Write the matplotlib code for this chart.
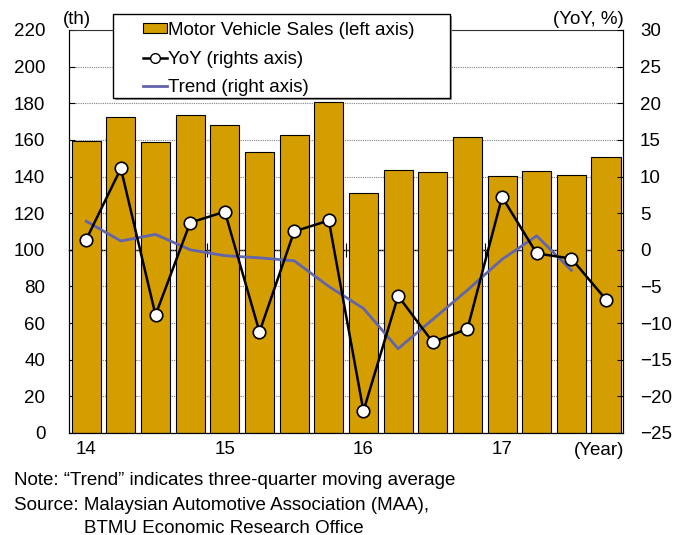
import matplotlib.pyplot as plt
from matplotlib.patches import Patch, Rectangle
from matplotlib.lines import Line2D
import numpy as np

plt.rcParams['font.family'] = ['Liberation Sans', 'DejaVu Sans']

# quarterly data 2014Q1 - 2017Q4
sales = [159.6, 172.7, 158.7, 173.8, 168.0, 153.4, 162.8, 180.7,
         130.8, 143.7, 142.3, 161.4, 140.5, 143.2, 141.0, 150.7]
yoy = [1.4, 11.1, -8.9, 3.7, 5.2, -11.2, 2.5, 4.0,
       -22.0, -6.3, -12.6, -10.8, 7.2, -0.5, -1.2, -6.8]
trend = [3.9, 1.2, 2.1, 0.0, -0.8, -1.1, -1.5, -5.0,
         -8.0, -13.5, -9.5, -5.5, -1.3, 1.9, -2.8]
year_labels = ['14', '15', '16', '17']
year_breaks = [3.5, 7.5, 11.5]

bar_color = '#D49E00'
trend_color = '#6264AE'
fs = 13.5

fig = plt.figure(figsize=(6.82, 5.35), dpi=100)
ax = fig.add_axes([0.101, 0.1907, 0.813, 0.7533])

x = np.arange(len(sales))
ax.bar(x, sales, width=0.84, color=bar_color, edgecolor='black', linewidth=0.8, zorder=2)
ax.set_ylim(0, 220)
ax.set_xlim(-0.5, len(sales) - 0.5)
ax.set_yticks(np.arange(0, 221, 20))
ax.yaxis.grid(True, linestyle=(0, (1, 1)), color='gray', linewidth=0.8, zorder=0)
ax.set_axisbelow(True)
ax.tick_params(axis='y', direction='in', length=4, labelsize=fs, pad=17)
ax.set_xticks(x[::4])
ax.set_xticklabels(year_labels)
ax.tick_params(axis='x', length=0, labelsize=fs, pad=6)
ax.spines['top'].set_color('#333333')
ax.spines['top'].set_linewidth(0.8)

# zero line of the right axis with year-break ticks
zero = ax.secondary_xaxis(100 / 220)
zero.set_xticks(year_breaks)
zero.tick_params(axis='x', direction='inout', length=10, width=0.8, labelbottom=False)
zero.spines['bottom'].set_linewidth(1.0)

ax2 = ax.twinx()
ax2.set_ylim(-25, 30)
ax2.set_yticks(np.arange(-25, 31, 5))
ax2.tick_params(axis='y', direction='in', length=4, labelsize=fs, pad=12)
ax2.spines['top'].set_visible(False)
ax2.plot(np.arange(len(trend)), trend, color=trend_color, linewidth=2, zorder=3)
ax2.plot(x, yoy, color='black', linewidth=1.8, marker='o', markersize=9,
         markerfacecolor='white', markeredgecolor='black', markeredgewidth=1.2, zorder=4)

fig.text(0.092, 0.963, '(th)', fontsize=fs, va='center')
fig.text(0.914, 0.963, '(YoY, %)', fontsize=fs, va='center', ha='right')
fig.text(0.916, 0.158, '(Year)', fontsize=fs, va='center', ha='right')

# legend box (drawn by hand to get the wide padding)
fig.add_artist(Rectangle((0.1682, 0.8131), 0.4946, 0.157, transform=fig.transFigure,
                         facecolor='#9a9a9a', edgecolor='none', zorder=4))
fig.add_artist(Rectangle((0.1652, 0.8168), 0.4946, 0.157, transform=fig.transFigure,
                         facecolor='white', edgecolor='black', linewidth=1.0, zorder=4.5))

handles = [Patch(facecolor=bar_color, edgecolor='black', linewidth=0.8),
           Line2D([], [], color='black', linewidth=1.8, marker='o', markersize=7,
                  markerfacecolor='white', markeredgecolor='black'),
           Line2D([], [], color=trend_color, linewidth=2)]
labels = ['Motor Vehicle Sales (left axis)', 'YoY (rights axis)', 'Trend (right axis)']
leg = fig.legend(handles, labels, loc='upper left', bbox_to_anchor=(0.2092, 0.959),
                 fontsize=fs, frameon=False, handlelength=1.28, handleheight=0.45,
                 handletextpad=0.07, labelspacing=0.62, borderpad=0, borderaxespad=0)
leg.set_zorder(6)

fig.text(0.02, 0.101, 'Note: \u201cTrend\u201d indicates three-quarter moving average', fontsize=fs, va='center')
fig.text(0.02, 0.056, 'Source: Malaysian Automotive Association (MAA),', fontsize=fs, va='center')
fig.text(0.123, 0.013, 'BTMU Economic Research Office', fontsize=fs, va='center')

fig.savefig('out.png', dpi=100)
